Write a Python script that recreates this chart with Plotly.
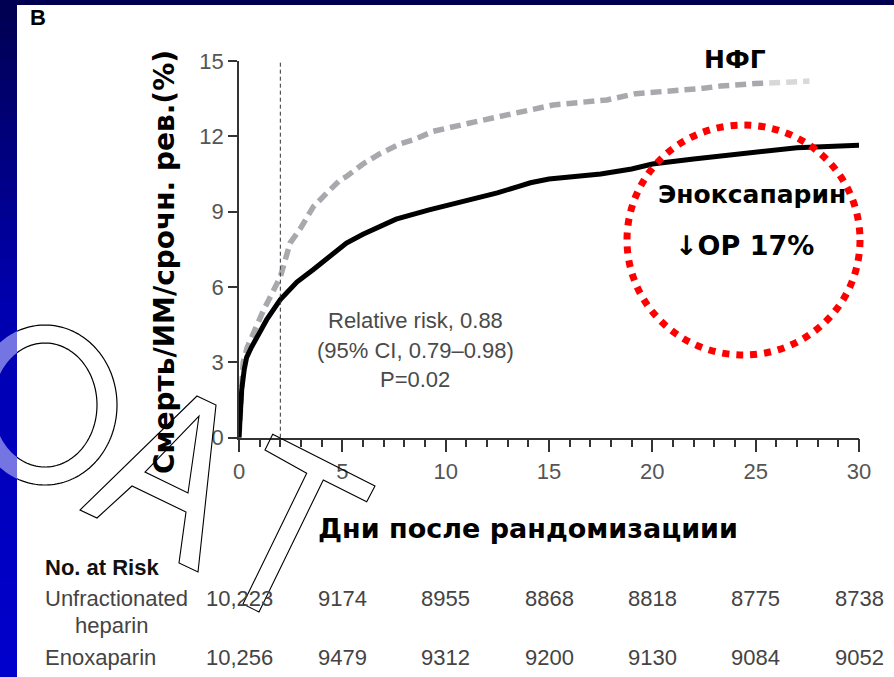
import numpy as np
import plotly.graph_objects as go

W, H = 894, 677

# ---- data ----
ufh_days = [0, 0.1, 0.2, 0.4, 0.7, 1.2, 2.0, 2.47, 2.95, 3.6, 4.4, 4.9, 5.2, 6.0, 6.8, 7.8, 8.4, 9.4,
            11.0, 12.6, 15.2, 17.8, 19.2, 22.3, 23.3, 25.0, 27.1, 27.6]
ufh_vals = [0, 1.5, 3.0, 3.6, 4.2, 5.1, 6.4, 7.75, 8.3, 9.2, 9.87, 10.27, 10.4, 10.9, 11.3, 11.7, 11.85, 12.2,
            12.5, 12.8, 13.25, 13.45, 13.7, 13.9, 14.0, 14.1, 14.2, 14.2]

enox_days = [0, 0.05, 0.13, 0.25, 0.37, 0.6, 0.86, 1.34, 2.0, 2.8, 3.6, 4.4, 5.2, 6.0, 7.6, 9.2, 10.8,
             11.7, 12.5, 13.5, 14.1, 15.0, 17.5, 19.0, 20.0, 22.0, 23.5, 25.0, 27.0, 30.0]
enox_vals = [0, 1.0, 1.9, 2.7, 3.2, 3.6, 4.0, 4.7, 5.5, 6.2, 6.7, 7.2, 7.75, 8.1, 8.7, 9.07, 9.4,
             9.55, 9.75, 10.0, 10.15, 10.3, 10.5, 10.7, 10.9, 11.1, 11.25, 11.4, 11.55, 11.65]

x_ticks = [0, 5, 10, 15, 20, 25, 30]
y_ticks = [0, 3, 6, 9, 12, 15]
risk_days = [0, 5, 10, 15, 20, 25, 30]
risk_ufh = ["10,223", "9174", "8955", "8868", "8818", "8775", "8738"]
risk_enox = ["10,256", "9479", "9312", "9200", "9130", "9084", "9052"]
landmark_day = 2

def X(p):
    return p / W

def Y(p):
    return 1 - p / H

fig = go.Figure()
fig.add_trace(go.Scatter(x=ufh_days, y=ufh_vals, mode="lines",
                         line=dict(color="#a7a9ac", width=5.5, dash="11px,6px"),
                         showlegend=False, hoverinfo="skip"))
fig.add_trace(go.Scatter(x=enox_days, y=enox_vals, mode="lines",
                         line=dict(color="#000000", width=5),
                         showlegend=False, hoverinfo="skip"))

shapes = []
shapes.append(dict(type="line", xref="x", yref="y", x0=landmark_day, x1=landmark_day, y0=0, y1=15,
                   line=dict(color="#333333", width=1, dash="4px,3px"), layer="above"))
shapes.append(dict(type="rect", xref="paper", yref="paper", x0=X(765), x1=X(830), y0=Y(72), y1=Y(95),
                   fillcolor="rgba(255,255,255,0.55)", line=dict(width=0), layer="above"))
shapes.append(dict(type="circle", xref="paper", yref="paper", x0=X(627), x1=X(860), y0=Y(125), y1=Y(355),
                   line=dict(color="#ff0000", width=7, dash="dot"), layer="above"))

BAND = 17

def arc_path(cx, cy, rx, ry, n=120):
    # ellipse outline only right of the band edge (open path)
    t = np.linspace(-np.arccos((BAND - cx) / rx), np.arccos((BAND - cx) / rx), n)
    pts = ["%s%.5f,%.5f" % ("M" if i == 0 else "L", X(cx + rx * np.cos(a)), Y(cy + ry * np.sin(a)))
           for i, a in enumerate(t)]
    return " ".join(pts)

shapes.append(dict(type="path", xref="paper", yref="paper", path=arc_path(45, 405, 72, 80),
                   line=dict(color="#000", width=1.2), layer="above"))
shapes.append(dict(type="path", xref="paper", yref="paper", path=arc_path(45, 405, 52, 62),
                   line=dict(color="#000", width=1.2), layer="above"))

shapes.append(dict(type="rect", xref="paper", yref="paper", x0=0, x1=1, y0=Y(5), y1=1,
                   fillcolor="#000050", line=dict(width=0), layer="above"))
nstrip = 34
for i in range(nstrip):
    y0p = i * H / nstrip
    y1p = min(H, (i + 1) * H / nstrip + 1.5)
    f = (i + 0.5) / nstrip
    if f < 0.45:
        b = 80 + (176 - 80) * f / 0.45
    else:
        b = 176 + (205 - 176) * (f - 0.45) / 0.55
    shapes.append(dict(type="rect", xref="paper", yref="paper", x0=0, x1=X(BAND), y0=Y(y1p), y1=Y(y0p),
                       fillcolor="rgb(0,0,%d)" % int(b), line=dict(width=0), layer="above"))

def ring_piece(sign):
    xs = np.linspace(0, BAND, 12)
    outer = [(x, 405 + sign * 80 * np.sqrt(max(0, 1 - ((x - 45) / 72) ** 2))) for x in xs]
    inner = [(x, 405 + sign * 62 * np.sqrt(max(0, 1 - ((x - 45) / 52) ** 2))) for x in xs[::-1]]
    pts = outer + inner
    return " ".join("%s%.5f,%.5f" % ("M" if i == 0 else "L", X(a), Y(b)) for i, (a, b) in enumerate(pts)) + " Z"

for s in (-1, 1):
    shapes.append(dict(type="path", xref="paper", yref="paper", path=ring_piece(s),
                       fillcolor="#7474e2", line=dict(width=0), layer="above"))

A_outer = [(197, 396), (216, 405), (198, 572), (179, 563), (186, 512), (132, 486), (97, 518), (80, 510)]
A_hole = [(199, 416), (188, 493), (145, 472)]
def poly(pts):
    return " ".join("%s%.5f,%.5f" % ("M" if i == 0 else "L", X(a), Y(b)) for i, (a, b) in enumerate(pts)) + " Z"
shapes.append(dict(type="path", xref="paper", yref="paper", path=poly(A_outer),
                   line=dict(color="#000", width=1.1), layer="above"))
shapes.append(dict(type="path", xref="paper", yref="paper", path=poly(A_hole),
                   line=dict(color="#000", width=1.1), layer="above"))
T_pts = [(272.7, 434.3), (375, 486), (366.7, 501.7), (323.3, 480), (259, 612), (243, 604), (306.7, 473.3), (265, 450)]
shapes.append(dict(type="path", xref="paper", yref="paper", path=poly(T_pts),
                   line=dict(color="#000", width=1.1), layer="above"))

ann = []
BOLD = "DejaVu Sans, Noto Sans, sans-serif"
REG = "Liberation Sans, Arial, sans-serif"

def txt(x, y, s, size, color="#000", family=REG, xanchor="center", bold=False, angle=0):
    ann.append(dict(x=X(x), y=Y(y), xref="paper", yref="paper", text=s,
                    showarrow=False, xanchor=xanchor, yanchor="middle", textangle=angle,
                    font=dict(size=size, color=color, family=family, weight="bold" if bold else "normal")))

txt(28, 18, "B", 22, bold=True, xanchor="left")
txt(164, 262, "Смерть/ИМ/срочн. рев.(%)", 28, family=BOLD, bold=True, angle=-90)
txt(528, 528, "Дни после рандомизациии", 27, family=BOLD, bold=True)
txt(735, 60, "НФГ", 25, family=BOLD, bold=True)
txt(752, 194, "Эноксапарин", 25, family=BOLD, bold=True)
txt(744, 245, "↓ОР 17%", 27, family=BOLD, bold=True)
txt(415, 320, "Relative risk, 0.88", 22, color="#4a4a4a")
txt(415, 350, "(95% CI, 0.79–0.98)", 22, color="#4a4a4a")
txt(415, 379, "P=0.02", 22, color="#4a4a4a")
txt(43, 567, "No. at Risk", 22, color="#111", bold=True, xanchor="left")
txt(43, 598, "Unfractionated", 22, color="#444", xanchor="left")
txt(73, 625, "heparin", 22, color="#444", xanchor="left")
txt(43, 657, "Enoxaparin", 22, color="#444", xanchor="left")
for d, a, b in zip(risk_days, risk_ufh, risk_enox):
    ann.append(dict(x=d, y=Y(598), xref="x", yref="paper", text=a, showarrow=False, yanchor="middle",
                    font=dict(size=22, color="#444", family=REG)))
    ann.append(dict(x=d, y=Y(657), xref="x", yref="paper", text=b, showarrow=False, yanchor="middle",
                    font=dict(size=22, color="#444", family=REG)))

fig.update_layout(
    width=W, height=H, margin=dict(l=0, r=0, t=0, b=0, pad=0, autoexpand=False),
    paper_bgcolor="white", plot_bgcolor="rgba(0,0,0,0)",
    shapes=shapes, annotations=ann,
    xaxis=dict(domain=[X(239), X(859)], range=[0, 30], tickvals=x_ticks, ticks="outside", ticklen=13,
               tickwidth=1.5, tickcolor="#333", showline=True, linecolor="#333", linewidth=1.5,
               showgrid=False, zeroline=False, automargin=False,
               tickfont=dict(size=22, color="#555", family=REG),
               minor=dict(dtick=1, ticks="outside", ticklen=8, tickwidth=1.5, tickcolor="#333", showgrid=False)),
    yaxis=dict(domain=[Y(437.7), Y(61)], range=[0, 15], tickvals=y_ticks, ticks="outside", ticklen=9,
               tickwidth=1.5, tickcolor="#333", showline=True, linecolor="#333", linewidth=1.5,
               showgrid=False, zeroline=False, automargin=False,
               tickfont=dict(size=22, color="#555", family=REG)),
)
fig.write_html("out.html", config={"displayModeBar": False},
               post_script="document.body.style.margin='0';document.body.style.overflow='hidden';")
